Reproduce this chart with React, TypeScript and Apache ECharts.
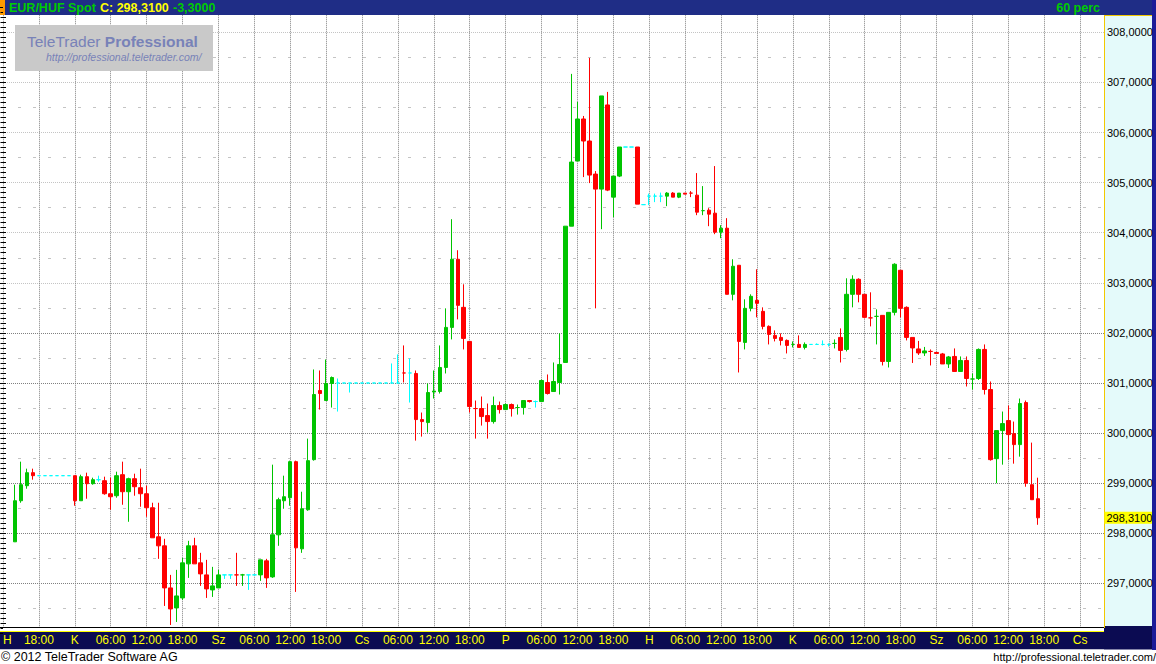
import React, { useEffect, useRef } from 'react';
import * as echarts from 'echarts';

// hourly candles, hour index i (6 px per hour), first candle at i = 2
const FIRST_HOUR = 2;

const OPEN = [
  297.83, 298.65, 298.95, 299.21, 299.15, 299.15, 299.15, 299.15, 299.15, 299.15,
  299.15, 298.65, 299.13, 298.99, 299.07, 299.05, 298.79, 298.75, 299.17, 298.83,
  299.09, 298.91, 298.79, 298.51, 297.93, 297.75, 296.91, 296.51, 296.71, 297.39,
  297.75, 297.41, 297.17, 296.87, 296.91, 297.17, 297.17, 297.17, 297.17, 297.17,
  297.17, 297.17, 297.45, 297.13, 297.97, 298.65, 298.71, 299.43, 297.69, 298.47,
  299.47, 300.85, 300.65, 300.99, 301.0, 301.0, 301.0, 301.0, 301.0, 301.0,
  301.0, 301.0, 301.0, 301.0, 301.0, 301.2, 301.2, 301.19, 300.27, 300.21,
  300.82, 300.83, 301.31, 302.11, 303.47, 302.51, 301.83, 300.49, 300.49, 300.35,
  300.23, 300.55, 300.47, 300.57, 300.51, 300.51, 300.65, 300.63, 300.63, 301.01,
  300.83, 301.01, 301.41, 304.13, 305.43, 306.27, 305.83, 305.17, 304.87, 306.55,
  304.71, 305.13, 305.71, 305.71, 305.71, 304.56, 304.73, 304.73, 304.73, 304.73,
  304.79, 304.71, 304.79, 304.79, 304.75, 304.44, 304.45, 304.39, 304.01, 304.09,
  302.77, 303.35, 301.81, 302.49, 302.65, 302.43, 302.13, 301.95, 301.91, 301.85,
  301.77, 301.77, 301.71, 301.77, 301.77, 301.77, 301.77, 301.79, 301.91, 301.67,
  302.77, 303.07, 302.77, 302.3, 302.33, 302.35, 301.43, 302.41, 303.25, 302.51,
  301.91, 301.68, 301.6, 301.63, 301.61, 301.58, 301.38, 301.53, 301.23, 301.45,
  301.08, 301.09, 301.67, 300.87, 299.49, 300.05, 300.25, 299.99, 299.77, 300.61,
  298.97, 298.69,
];

const CLOSE = [
  298.65, 298.97, 299.21, 299.15, 299.15, 299.15, 299.15, 299.15, 299.15, 299.15,
  298.65, 299.13, 298.99, 299.07, 299.07, 298.79, 298.73, 299.15, 298.83, 299.09,
  298.93, 298.79, 298.51, 297.91, 297.75, 296.91, 296.49, 296.75, 297.41, 297.75,
  297.39, 297.19, 296.89, 296.95, 297.17, 297.17, 297.17, 297.17, 297.17, 297.17,
  297.17, 297.47, 297.11, 297.97, 298.67, 298.73, 299.43, 297.71, 298.49, 299.45,
  300.77, 300.79, 300.99, 301.11, 301.0, 301.0, 301.0, 301.0, 301.0, 301.0,
  301.0, 301.0, 301.0, 301.0, 301.0, 301.2, 301.2, 300.27, 300.23, 300.81,
  300.84, 301.31, 302.11, 303.47, 302.55, 301.89, 300.53, 300.49, 300.33, 300.23,
  300.55, 300.47, 300.57, 300.49, 300.51, 300.65, 300.63, 300.63, 301.05, 300.79,
  301.03, 301.37, 304.13, 305.41, 306.27, 305.83, 305.15, 304.87, 306.73, 304.85,
  305.13, 305.71, 305.71, 305.71, 304.57, 304.56, 304.73, 304.73, 304.73, 304.79,
  304.71, 304.79, 304.77, 304.79, 304.41, 304.44, 304.37, 304.01, 304.09, 302.77,
  303.33, 301.83, 302.49, 302.73, 302.59, 302.13, 301.97, 301.89, 301.85, 301.75,
  301.77, 301.71, 301.77, 301.77, 301.77, 301.77, 301.77, 301.79, 301.65, 302.77,
  303.07, 302.77, 302.31, 302.3, 302.33, 301.43, 302.41, 303.37, 302.49, 301.91,
  301.7, 301.6, 301.64, 301.63, 301.59, 301.38, 301.52, 301.23, 301.45, 301.09,
  301.08, 301.67, 300.87, 299.47, 300.05, 300.19, 299.97, 299.77, 300.59, 299.0,
  298.67, 298.31,
];

const LOW = [
  297.83, 298.61, 298.89, 299.07, 299.15, 299.15, 299.15, 299.15, 299.15, 299.15,
  298.55, 298.65, 298.69, 298.97, 299.03, 298.77, 298.47, 298.71, 298.57, 298.23,
  298.75, 298.53, 298.33, 297.91, 297.49, 296.55, 296.17, 296.23, 296.67, 297.11,
  297.39, 296.95, 296.71, 296.73, 296.91, 297.09, 297.09, 296.95, 296.95, 296.87,
  297.17, 297.05, 296.91, 297.11, 297.75, 298.49, 298.55, 296.83, 297.61, 298.45,
  299.45, 300.47, 300.65, 300.51, 300.43, 301.0, 300.81, 301.0, 301.0, 301.0,
  301.0, 301.0, 301.0, 301.0, 301.0, 301.01, 300.61, 299.85, 299.93, 300.01,
  300.69, 300.79, 301.19, 301.87, 302.27, 301.67, 300.41, 299.89, 300.15, 299.89,
  300.19, 300.39, 300.47, 300.33, 300.37, 300.37, 300.61, 300.51, 300.63, 300.77,
  300.83, 300.77, 301.41, 304.13, 305.43, 305.11, 304.99, 302.49, 304.07, 304.83,
  304.31, 305.11, 305.71, 305.71, 304.57, 304.56, 304.55, 304.61, 304.61, 304.53,
  304.71, 304.69, 304.77, 304.71, 304.35, 304.35, 304.13, 303.97, 303.89, 302.77,
  302.65, 301.21, 301.67, 302.43, 302.31, 302.07, 301.77, 301.83, 301.75, 301.59,
  301.71, 301.71, 301.67, 301.77, 301.77, 301.75, 301.73, 301.69, 301.41, 301.63,
  302.51, 302.61, 302.29, 302.13, 301.77, 301.35, 301.31, 302.35, 302.31, 301.85,
  301.4, 301.56, 301.54, 301.35, 301.58, 301.38, 301.3, 301.23, 301.23, 300.93,
  300.87, 301.06, 300.77, 299.45, 299.0, 299.37, 299.47, 299.39, 299.53, 298.93,
  298.67, 298.17,
];

const HIGH = [
  298.97, 299.43, 299.29, 299.29, 299.15, 299.15, 299.15, 299.15, 299.15, 299.15,
  299.15, 299.17, 299.21, 299.11, 299.15, 299.13, 299.11, 299.23, 299.43, 299.11,
  299.19, 299.29, 298.95, 298.61, 298.61, 297.89, 297.17, 297.27, 297.51, 297.85,
  297.91, 297.61, 297.47, 297.33, 297.27, 297.17, 297.17, 297.61, 297.19, 297.17,
  297.17, 297.47, 297.49, 299.37, 298.71, 299.15, 299.45, 299.45, 298.83, 299.89,
  301.27, 301.25, 301.47, 301.13, 301.09, 301.0, 301.0, 301.0, 301.0, 301.0,
  301.0, 301.0, 301.0, 301.39, 301.57, 301.75, 301.49, 301.25, 300.41, 300.99,
  301.25, 301.75, 302.49, 304.27, 303.65, 302.97, 301.83, 300.65, 300.73, 300.59,
  300.73, 300.63, 300.59, 300.59, 300.57, 300.65, 300.65, 300.65, 301.07, 301.17,
  301.41, 301.99, 304.13, 307.17, 306.61, 306.33, 307.49, 305.23, 306.73, 306.81,
  305.13, 305.71, 305.71, 305.71, 305.71, 304.56, 304.78, 304.78, 304.8, 304.81,
  304.81, 304.79, 304.79, 304.83, 305.19, 304.93, 304.49, 305.33, 304.15, 304.29,
  303.47, 303.35, 302.67, 302.77, 303.27, 302.51, 302.15, 302.05, 301.99, 301.87,
  301.83, 301.95, 301.81, 301.77, 301.79, 301.85, 301.79, 301.87, 302.09, 303.09,
  303.15, 303.09, 302.77, 302.81, 302.47, 302.35, 302.41, 303.39, 303.25, 302.53,
  301.91, 301.84, 301.72, 301.67, 301.62, 301.6, 301.54, 301.69, 301.53, 301.53,
  301.19, 301.69, 301.77, 301.03, 300.05, 300.43, 300.55, 300.23, 300.69, 300.65,
  299.81, 299.11,
];

// hours without trades (drawn cyan) and unchanged hours drawn red
const NO_TRADE = [6, 7, 8, 9, 10, 11, 16, 37, 38, 41, 42, 56, 57, 58, 59, 60, 61, 62, 63, 64, 65, 66, 68, 89, 104, 105, 107, 108, 109, 110, 135, 136, 137, 138];
const DOJI_DOWN = [39, 67, 79, 115, 145, 155];

const X_LABELS = [
  'H', '18:00', 'K', '06:00', '12:00', '18:00', 'Sz', '06:00', '12:00', '18:00',
  'Cs', '06:00', '12:00', '18:00', 'P', '06:00', '12:00', '18:00', 'H', '06:00',
  '12:00', '18:00', 'K', '06:00', '12:00', '18:00', 'Sz', '06:00', '12:00', '18:00', 'Cs',
];

const CHANGE = -3.3;
const TOTAL_HOURS = 184;

const UP = '#00c400';
const DOWN = '#ff0000';
const FLAT = '#00ffff';
const GRID_DARK = '#808080';
const GRID_LIGHT = '#c4c4c4';
const SANS = '"Liberation Sans", Arial, sans-serif';

const fmt = (v: number) => v.toFixed(4).replace('.', ',');

export default function App() {
  const ref = useRef<HTMLDivElement>(null);
  useEffect(() => {
    if (!ref.current) return;
    const chart = echarts.init(ref.current, undefined, { renderer: 'svg' });

    const data = OPEN.map((o, k) => {
      const i = FIRST_HOUR + k;
      const c = CLOSE[k];
      let col: string;
      if (NO_TRADE.includes(i)) col = FLAT;
      else if (c > o) col = UP;
      else if (c < o) col = DOWN;
      else col = DOJI_DOWN.includes(i) ? DOWN : UP;
      return {
        value: [i, o, c, LOW[k], HIGH[k]],
        itemStyle: { color: col, color0: col, borderColor: col, borderColor0: col, borderColorDoji: col },
      };
    });
    const last = CLOSE[CLOSE.length - 1];

    // split line colours: integers up to 302 dark, above light
    const intColors: string[] = [];
    for (let v = 296; v <= 308.5; v += 1) intColors.push(v <= 302 ? GRID_DARK : GRID_LIGHT);
    intColors.push(GRID_LIGHT);

    const hidden = { axisLine: { show: false }, axisTick: { show: false }, axisLabel: { show: false } };

    const option: any = {
      animation: false,
      backgroundColor: '#ffffff',
      grid: { left: 0, top: 7.25, width: 1104, height: 626.25 },
      xAxis: [
        {
          type: 'value', min: 0, max: TOTAL_HOURS, interval: 6, z: 0, ...hidden,
          splitLine: { show: true, lineStyle: { color: GRID_DARK, type: [1, 1], width: 1 } },
        },
        {
          type: 'value', min: 0, max: TOTAL_HOURS, interval: 6, position: 'bottom', z: 200,
          axisLine: { show: false }, axisTick: { show: false }, splitLine: { show: false },
          axisLabel: {
            show: true, color: '#ffff00', fontSize: 12, fontFamily: SANS, margin: 6.5,
            verticalAlign: 'middle', alignMinLabel: 'left', showMaxLabel: false,
            formatter: (v: number) => X_LABELS[Math.round(v / 6)] ?? '',
          },
        },
      ],
      yAxis: [
        {
          type: 'value', position: 'right', min: 296, max: 308.5, interval: 1, z: 150,
          axisLine: { show: false },
          axisTick: { show: true, inside: true, length: 5, lineStyle: { color: '#000' } },
          minorTick: { show: true, splitNumber: 10, length: 2.5, lineStyle: { color: '#000' } },
          splitLine: { show: false },
          axisLabel: {
            show: true, margin: 3, color: '#000', fontSize: 11, fontFamily: SANS,
            formatter: fmt, showMinLabel: false, showMaxLabel: false,
          },
        },
        {
          type: 'value', position: 'right', min: 296, max: 308.5, interval: 1, z: 0, ...hidden,
          splitLine: { show: true, lineStyle: { color: intColors, type: [1, 1], width: 1 } },
        },
        {
          type: 'value', position: 'left', min: 296, max: 308.5, interval: 0.5, z: 0,
          axisLine: { show: false }, axisLabel: { show: false },
          axisTick: { show: true, inside: true, length: 3, lineStyle: { color: '#000' } },
          minorTick: { show: true, splitNumber: 5, length: 3, lineStyle: { color: '#000' } },
          splitLine: { show: true, lineStyle: { color: ['rgba(0,0,0,0)', GRID_LIGHT], type: [3, 12], width: 1 } },
        },
      ],
      series: [
        {
          type: 'candlestick', xAxisIndex: 0, yAxisIndex: 0, barWidth: 4,
          encode: { x: 0, y: [1, 2, 3, 4] },
          itemStyle: { borderWidth: 1 },
          data,
        },
      ],
      graphic: [
        // y-axis panel
        { type: 'rect', z: 50, silent: true, shape: { x: 1104, y: 15, width: 48, height: 611 }, style: { fill: '#e4fafa' } },
        { type: 'line', z: 160, silent: true, shape: { x1: 1104.5, y1: 15, x2: 1104.5, y2: 628 }, style: { stroke: '#f2c800', lineWidth: 1 } },
        { type: 'line', z: 160, silent: true, shape: { x1: 1104, y1: 15.5, x2: 1152, y2: 15.5 }, style: { stroke: '#f2c800', lineWidth: 1 } },
        // header
        { type: 'rect', z: 100, silent: true, shape: { x: 0, y: 0, width: 1156, height: 15 }, style: { fill: '#1f2d86' } },
        { type: 'rect', z: 101, silent: true, shape: { x: 0, y: 0, width: 5, height: 15 }, style: { fill: '#ff9900' } },
        { type: 'text', z: 101, silent: true, x: 9, y: 7.5, style: { text: 'EUR/HUF Spot', fill: '#00cc00', fontSize: 12.5, fontWeight: 'bold', fontFamily: SANS, verticalAlign: 'middle' } },
        { type: 'text', z: 101, silent: true, x: 100, y: 7.5, style: { text: `C: ${fmt(last)}`, fill: '#ffff00', fontSize: 12.5, fontWeight: 'bold', fontFamily: SANS, verticalAlign: 'middle' } },
        { type: 'text', z: 101, silent: true, x: 173, y: 7.5, style: { text: fmt(CHANGE), fill: '#00cc00', fontSize: 12.5, fontWeight: 'bold', fontFamily: SANS, verticalAlign: 'middle' } },
        { type: 'text', z: 101, silent: true, x: 1100, y: 7.5, style: { text: '60 perc', fill: '#00cc00', fontSize: 12.5, fontWeight: 'bold', fontFamily: SANS, align: 'right', verticalAlign: 'middle' } },
        // right border
        { type: 'rect', z: 102, silent: true, shape: { x: 1152, y: 0, width: 4, height: 650 }, style: { fill: '#1c1c98' } },
        // bottom of plot and x-axis band
        { type: 'rect', z: 100, silent: true, shape: { x: 0, y: 628, width: 1104, height: 4 }, style: { fill: '#ffffff' } },
        { type: 'line', z: 101, silent: true, shape: { x1: 0, y1: 627.5, x2: 1104, y2: 627.5 }, style: { stroke: '#000', lineWidth: 1 } },
        { type: 'line', z: 101, silent: true, shape: { x1: 0, y1: 631.5, x2: 1104, y2: 631.5 }, style: { stroke: '#ffff00', lineWidth: 1 } },
        { type: 'rect', z: 100, silent: true, shape: { x: 0, y: 632, width: 1156, height: 17.5 }, style: { fill: '#0b0b52' } },
        { type: 'rect', z: 100, silent: true, shape: { x: 1104, y: 626, width: 52, height: 24 }, style: { fill: '#0b0b52' } },
        { type: 'rect', z: 100, silent: true, shape: { x: 0, y: 649.5, width: 1156, height: 15 }, style: { fill: '#ffffff' } },
        // footer
        { type: 'text', z: 101, silent: true, x: 1, y: 657, style: { text: '© 2012 TeleTrader Software AG', fill: '#000', fontSize: 12.5, fontFamily: SANS, verticalAlign: 'middle' } },
        { type: 'text', z: 101, silent: true, x: 1156, y: 657, style: { text: 'http://professional.teletrader.com/', fill: '#000', fontSize: 11, fontFamily: SANS, align: 'right', verticalAlign: 'middle' } },
        // watermark
        { type: 'rect', z: 90, silent: true, shape: { x: 15, y: 25, width: 198, height: 46 }, style: { fill: '#c9c9c9' } },
        {
          type: 'text', z: 91, silent: true, x: 27, y: 41,
          style: {
            text: '{a|TeleTrader }{b|Professional}', verticalAlign: 'middle',
            rich: {
              a: { fontSize: 15.5, fontFamily: SANS, fill: '#7882b8' },
              b: { fontSize: 15.5, fontFamily: SANS, fontWeight: 'bold', fill: '#7882b8' },
            },
          },
        },
        { type: 'text', z: 91, silent: true, x: 46, y: 57, style: { text: 'http://professional.teletrader.com/', fill: '#7882b8', fontSize: 10.5, fontStyle: 'italic', fontFamily: SANS, verticalAlign: 'middle' } },
        // last price marker (positioned from the y scale below)
        {
          id: 'price', type: 'group', z: 170, x: 1104, y: 0, invisible: true,
          children: [
            { type: 'rect', z: 170, silent: true, shape: { x: 0.5, y: -6, width: 47.5, height: 12 }, style: { fill: '#ffff00' } },
            { type: 'text', z: 171, silent: true, x: 2.5, y: 0.5, style: { text: fmt(last), fill: '#000', fontSize: 11, fontFamily: SANS, verticalAlign: 'middle' } },
          ],
        },
      ],
    };

    chart.setOption(option);
    const py = chart.convertToPixel({ yAxisIndex: 0 }, last) as number;
    chart.setOption({ graphic: [{ id: 'price', y: py, invisible: false }] });
    return () => chart.dispose();
  }, []);
  return (
    <div
      ref={ref}
      style={{ position: 'fixed', left: 0, top: 0, width: 1156, height: 664, background: '#fff' }}
    />
  );
}
